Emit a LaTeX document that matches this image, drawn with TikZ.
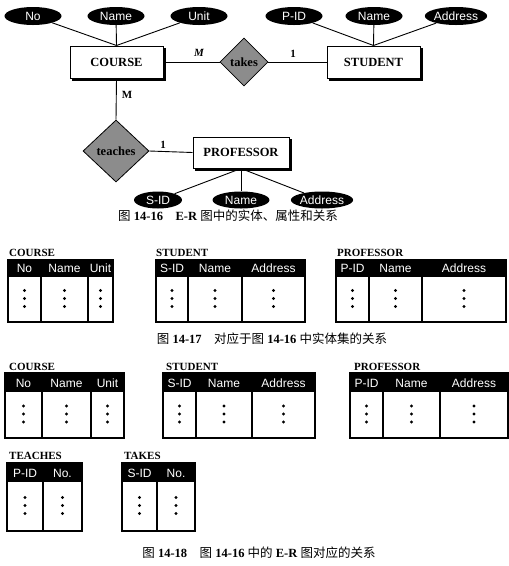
\documentclass[tikz,border=0pt]{standalone}
\usepackage{fontspec}
\setmainfont{Liberation Serif}
\newfontfamily\sansf{Liberation Sans}
\newfontfamily\cjk{Noto Sans CJK SC}
\usetikzlibrary{shapes.geometric,backgrounds}
\newcommand{\cn}[1]{{\cjk #1}}
\newcommand{\rtab}[4]{%
  \foreach \xl/\xr/\nm in {#4}{%
    \fill[black] (\xl,#1) rectangle (\xr,#2);
    \draw[tabline] (\xl,#1) rectangle (\xr,#3);
    \node[hdr] at ({(\xl+\xr)/2},#2-5) {\nm};
    \foreach \dy in {-8,0,8}{\fill ({(\xl+\xr)/2},{(#2+#3)/2-1+\dy}) circle (1.6pt);}
  }}
\begin{document}
\begin{tikzpicture}[x=1pt,y=-1pt,
 attr/.style={ellipse,fill=black,text=white,inner sep=0,minimum width=57,minimum height=18,font=\sansf\fontsize{12}{12}\selectfont},
 entity/.style={draw,line width=1pt,fill=white,minimum width=93,minimum height=32,inner sep=0,font=\bfseries\fontsize{12.5}{12.5}\selectfont},
 rel/.style={diamond,draw,line width=0.8pt,fill=black!45,inner sep=0,font=\bfseries\fontsize{12.5}{12.5}\selectfont},
 conn/.style={line width=0.9pt},
 card/.style={font=\bfseries\fontsize{11}{11}\selectfont,inner sep=0},
 ttl/.style={font=\bfseries\fontsize{11}{11}\selectfont,anchor=base west,inner sep=0},
 hdr/.style={text=white,font=\sansf\fontsize{12}{12}\selectfont,inner sep=0,anchor=base},
 tabline/.style={line width=1.2pt},
 captext/.style={font=\fontsize{12.5}{12.5}\selectfont,inner sep=0}
]
\useasboundingbox (0,0) rectangle (509,566);

% ---------- Fig 14-16 ----------
\node[entity] (course) at (116.5,62) {COURSE};
\node[entity] (student) at (373.5,62) {STUDENT};
\node[entity,minimum width=96,minimum height=31] (prof) at (241,152.5) {PROFESSOR};
\begin{scope}[on background layer]
  \foreach \b in {course,student,prof}{
    \fill ([shift={(2.5,2.5)}]\b.north west) rectangle ([shift={(2.5,2.5)}]\b.south east);}
\end{scope}
\node[rel,minimum width=48,minimum height=48] (takes) at (244,62) {takes};
\node[rel,minimum width=66,minimum height=62] (teaches) at (116,151) {teaches};

\node[attr] (cno) at (33,16) {No};
\node[attr] (cname) at (116,16) {Name};
\node[attr] (cunit) at (199,16) {Unit};
\node[attr] (spid) at (294,16) {P-ID};
\node[attr] (sname) at (374,16) {Name};
\node[attr] (saddr) at (456,16) {Address};
\node[attr,minimum width=48,minimum height=17] (psid) at (158,200) {S-ID};
\node[attr,minimum width=57,minimum height=17] (pname) at (241,200) {Name};
\node[attr,minimum width=56,minimum height=17] (paddr) at (322,200) {Address};

\foreach \a in {cno,cname,cunit}{\draw[conn] (\a) -- (course.north);}
\foreach \a in {spid,sname,saddr}{\draw[conn] (\a) -- (student.north);}
\foreach \a in {psid,pname,paddr}{\draw[conn] (prof.south) -- (\a);}
\draw[conn] (course.east) -- (takes.west);
\draw[conn] (takes.east) -- (student.west);
\draw[conn] (course.south) -- (teaches.north);
\draw[conn] (teaches.east) -- (prof.west);

\node[card,font=\bfseries\itshape\fontsize{11}{11}\selectfont] (m1) at (199,53) {M};
\node[card] (o1) at (293,54) {1};
\node[card] (m2) at (127,95) {M};
\node[card] (o2) at (163,145) {1};

\node[captext] (cap1) at (228,216) {\cn{图} \textbf{14-16}\hspace{1em}\textbf{E-R} \cn{图中的实体、属性和关系}};

% ---------- Fig 14-17 ----------
\node[ttl] (t1) at (9,256) {COURSE};
\node[ttl] (t2) at (156,256) {STUDENT};
\node[ttl] (t3) at (337,256) {PROFESSOR};
\rtab{260}{277}{322}{8/41/No,41/88/Name,88/113/Unit}
\rtab{260}{277}{322}{156/188/S-ID,188/242/Name,242/305/Address}
\rtab{260}{277}{322}{336/369/P-ID,369/422/Name,422/506/Address}
\node[captext] (cap2) at (272,339) {\cn{图} \textbf{14-17}\hspace{1em}\cn{对应于图} \textbf{14-16} \cn{中实体集的关系}};

% ---------- Fig 14-18 ----------
\node[ttl] (u1) at (9,370) {COURSE};
\node[ttl] (u2) at (166,370) {STUDENT};
\node[ttl] (u3) at (354,370) {PROFESSOR};
\rtab{373}{392}{438}{5/42/No,42/91/Name,91/124/Unit}
\rtab{373}{392}{438}{163/196/S-ID,196/252/Name,252/315/Address}
\rtab{373}{392}{438}{350/383/P-ID,383/440/Name,440/508/Address}
\node[ttl] (u4) at (9,459) {TEACHES};
\node[ttl] (u5) at (124,459) {TAKES};
\rtab{463}{482}{531}{7/43/P-ID,43/82/No.}
\rtab{463}{482}{531}{122/157/S-ID,157/195/No.}
\node[captext] (cap3) at (259,553) {\cn{图} \textbf{14-18}\hspace{1em}\cn{图} \textbf{14-16} \cn{中的} \textbf{E-R} \cn{图对应的关系}};
\end{tikzpicture}
\end{document}
